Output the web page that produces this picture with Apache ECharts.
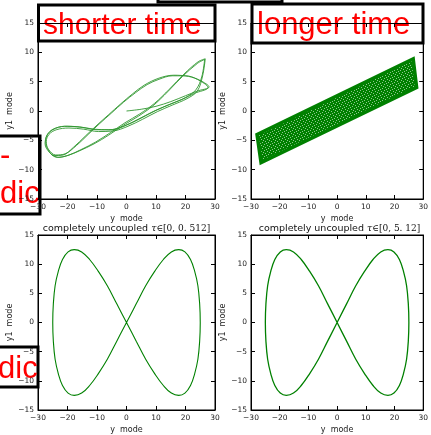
<!DOCTYPE html>
<html>
<head>
<meta charset="utf-8">
<script src="https://cdn.jsdelivr.net/npm/echarts@6/dist/echarts.min.js"></script>
<style>
  html, body { margin: 0; padding: 0; background: #fff; }
  #chart { width: 431px; height: 435px; }
</style>
</head>
<body>
<div id="chart"></div>
<script>
// axis ranges shared by the four panels
const xRange = [-30, 30];
const yRange = [-15, 15];
const xStep = 10;
const yStep = 5;
const xLabel = 'y  mode';
const yLabel = 'y1  mode';

// short run: a few passes of the coupled orbit
const shortX = [0, 5, 10, 15, 20, 24, 28,
  25, 21, 16, 11, 6, 2, -2, -6, -10, -14, -18, -21.5, -24.5, -26.8, -27.4, -26.4, -24, -20,
  -15, -10, -5, 0, 5, 10, 15, 20, 23.5, 25.5, 26.5,
  24, 19, 14, 9, 4, -1, -6, -11, -16, -20, -23.5, -26.2, -27.6, -27, -25, -21,
  -16, -11, -6, -1, 4, 9, 14, 19, 23, 27.6,
  24, 20, 15.5, 11, 7,
  3, -1, -5, -9, -13, -17, -20.8, -24, -26.5, -27.2, -26.3, -23.8, -19.5,
  -14.5, -9.5, -4.5, 0.5, 5.5, 10.5, 15.5, 20.5, 24, 25.8, 26.7,
  24.3, 19.5, 14.5, 9.5, 4.5, -0.5, -5.5, -10.5, -15.5, -19.5, -23, -25.5];
const shortY = [0, 0.3, 0.8, 1.6, 2.6, 3.4, 4.1,
  5.2, 5.9, 6.1, 5.6, 4.4, 2.9, 1.2, -0.6, -2.4, -4.3, -6.2, -7.5, -7.6, -6.4, -5.0, -3.7, -2.9, -2.6,
  -2.8, -3.2, -3.2, -2.4, -1.2, 0.1, 1.2, 2.3, 3.6, 5.8, 8.8,
  8.1, 5.9, 3.3, 0.9, -0.9, -2.4, -4.1, -5.6, -6.8, -7.6, -7.9, -7.0, -5.6, -4.2, -3.2, -2.6,
  -2.7, -3.1, -3.2, -2.6, -1.4, -0.1, 1.0, 2.0, 3.0, 4.0,
  5.4, 6.0, 6.0, 5.4, 4.5,
  3.1, 1.5, -0.3, -2.1, -4.0, -5.9, -7.3, -7.5, -6.5, -5.2, -4.0, -3.2, -2.9,
  -3.1, -3.5, -3.4, -2.6, -1.4, -0.1, 1.0, 2.1, 3.4, 6.0, 8.9,
  8.4, 6.3, 3.7, 1.3, -0.5, -2.0, -3.7, -5.3, -6.6, -7.5, -7.9, -7.4];

// long run: the orbit fills a slanted band, corners
const bandX = [-27.9, 26.5, 27.7, -26.5];
const bandY = [-4.0, 8.9, 4.0, -8.8];

// uncoupled: figure-eight, same shape for both time spans
const eightX = [0, -3.3, -6.5, -9.6, -12.5, -15.2, -17.7, -19.8, -21.7, -23.1, -24.2, -24.8,
  -25, -24.8, -24.2, -23.1, -21.7, -19.8, -17.7, -15.2, -12.5, -9.6, -6.5, -3.3,
  0, 3.3, 6.5, 9.6, 12.5, 15.2, 17.7, 19.8, 21.7, 23.1, 24.2, 24.8,
  25, 24.8, 24.2, 23.1, 21.7, 19.8, 17.7, 15.2, 12.5, 9.6, 6.5, 3.3, 0];
const eightY = [0, -3.2, -6.3, -8.8, -10.8, -12.1, -12.5, -12.1, -10.8, -8.8, -6.3, -3.2,
  0, 3.2, 6.3, 8.8, 10.8, 12.1, 12.5, 12.1, 10.8, 8.8, 6.3, 3.2,
  0, -3.2, -6.3, -8.8, -10.8, -12.1, -12.5, -12.1, -10.8, -8.8, -6.3, -3.2,
  0, 3.2, 6.3, 8.8, 10.8, 12.1, 12.5, 12.1, 10.8, 8.8, 6.3, 3.2, 0];

const titleLeft = '0, 0. 512';
const titleRight = '0, 5. 12';

const font = 'DejaVu Sans';
const green = '#008000';

const pairs = (xs, ys) => xs.map((x, i) => [x, ys[i]]);
const fmt = v => String(v).replace('-', '\u2212');

// speckled fill for the densely hatched band
function hatch() {
  const c = document.createElement('canvas');
  c.width = 6; c.height = 6;
  const ctx = c.getContext('2d');
  ctx.fillStyle = '#008000';
  ctx.fillRect(0, 0, 6, 6);
  ctx.fillStyle = 'rgba(255,255,255,0.55)';
  [[0, 0], [3, 1], [1, 3], [4, 4], [5, 2], [2, 5]].forEach(p => ctx.fillRect(p[0], p[1], 1, 1));
  return c;
}

const grids = [
  { left: 38, top: 23, width: 177, height: 176 },
  { left: 251, top: 23, width: 177, height: 176 },
  { left: 38, top: 235, width: 177, height: 176 },
  { left: 251, top: 235, width: 177, height: 176 }
];

const xAxes = [];
const yAxes = [];
grids.forEach((g, i) => {
  const line = { show: true, onZero: false, lineStyle: { color: '#000', width: 1 } };
  const tick = { show: true, inside: true, length: 4, lineStyle: { color: '#000', width: 1 } };
  xAxes.push({
    type: 'value', gridIndex: i, position: 'bottom',
    min: xRange[0], max: xRange[1], interval: xStep,
    axisLine: line, axisTick: tick, splitLine: { show: false },
    axisLabel: { fontSize: 7.5, color: '#222', fontFamily: font, margin: 4, formatter: fmt },
    name: xLabel, nameLocation: 'middle', nameGap: 16,
    nameTextStyle: { fontSize: 8, color: '#222', fontFamily: font }
  });
  xAxes.push({
    type: 'value', gridIndex: i, position: 'top',
    min: xRange[0], max: xRange[1], interval: xStep,
    axisLine: line, axisTick: tick, splitLine: { show: false },
    axisLabel: { show: false }
  });
  yAxes.push({
    type: 'value', gridIndex: i, position: 'left',
    min: yRange[0], max: yRange[1], interval: yStep,
    axisLine: line, axisTick: tick, splitLine: { show: false },
    axisLabel: { fontSize: 7.5, color: '#222', fontFamily: font, margin: 4, formatter: fmt },
    name: yLabel, nameLocation: 'middle', nameGap: 22,
    nameTextStyle: { fontSize: 8, color: '#222', fontFamily: font }
  });
  yAxes.push({
    type: 'value', gridIndex: i, position: 'right',
    min: yRange[0], max: yRange[1], interval: yStep,
    axisLine: line, axisTick: tick, splitLine: { show: false },
    axisLabel: { show: false }
  });
});

function labelBox(x, y, w, h, lines, textX, midY, size) {
  const children = [{
    type: 'rect', shape: { x: x, y: y, width: w, height: h },
    style: { fill: '#fff', stroke: '#000', lineWidth: 3 }
  }];
  lines.forEach((t, k) => {
    children.push({
      type: 'text', x: textX, y: midY + k * 38,
      style: { text: t, fill: '#ff0000', font: size + 'px "Liberation Sans", Arial, sans-serif', verticalAlign: 'middle', align: 'left' }
    });
  });
  return { type: 'group', z: 100, children: children };
}

function panelTitle(cx, range) {
  return {
    type: 'text', z: 50, x: cx, y: 229,
    style: {
      text: 'completely uncoupled {m|\u03c4}{s|\u2208[' + range + ']}',
      align: 'center', verticalAlign: 'middle',
      font: '9.5px "DejaVu Sans"', fill: '#111',
      rich: {
        m: { fontFamily: 'DejaVu Serif', fontStyle: 'italic', fontSize: 9.5, fill: '#111' },
        s: { fontFamily: 'DejaVu Serif', fontSize: 9, fill: '#111' }
      }
    }
  };
}

const chart = echarts.init(document.getElementById('chart'), null, { renderer: 'canvas' });
chart.setOption({
  animation: false,
  backgroundColor: '#fff',
  grid: grids.map(g => Object.assign({ show: true, borderColor: '#000', borderWidth: 1, backgroundColor: 'transparent' }, g)),
  xAxis: xAxes,
  yAxis: yAxes,
  series: [
    {
      type: 'line', xAxisIndex: 0, yAxisIndex: 0,
      data: pairs(shortX, shortY), smooth: 0.35, showSymbol: false,
      lineStyle: { color: '#2f962f', width: 0.9 }
    },
    {
      type: 'custom', xAxisIndex: 2, yAxisIndex: 2,
      data: [[0, 0]],
      renderItem: function (params, api) {
        const pts = bandX.map((x, i) => api.coord([x, bandY[i]]));
        return {
          type: 'polygon',
          shape: { points: pts },
          style: { fill: { image: hatch(), repeat: 'repeat' }, stroke: '#008000', lineWidth: 3.5, lineJoin: 'miter' }
        };
      }
    },
    {
      type: 'line', xAxisIndex: 4, yAxisIndex: 4,
      data: pairs(eightX, eightY), smooth: 0.4, showSymbol: false,
      lineStyle: { color: green, width: 1.1 }
    },
    {
      type: 'line', xAxisIndex: 6, yAxisIndex: 6,
      data: pairs(eightX, eightY), smooth: 0.4, showSymbol: false,
      lineStyle: { color: green, width: 1.3 }
    }
  ],
  graphic: [
    panelTitle(126.5, titleLeft),
    panelTitle(339.5, titleRight),
    { type: 'rect', z: 100, shape: { x: 158, y: -10, width: 124, height: 12 },
      style: { fill: '#fff', stroke: '#000', lineWidth: 3 } },
    labelBox(38.5, 5, 176.5, 36, ['shorter time'], 43, 26, 30),
    labelBox(252, 4, 171, 39, ['longer time'], 257, 25, 31),
    labelBox(-5, 136, 45, 78, ['-', 'dic'], 0, 156, 31),
    labelBox(-5, 347, 43, 40, ['dic'], -2, 369, 31)
  ]
});
</script>
</body>
</html>
